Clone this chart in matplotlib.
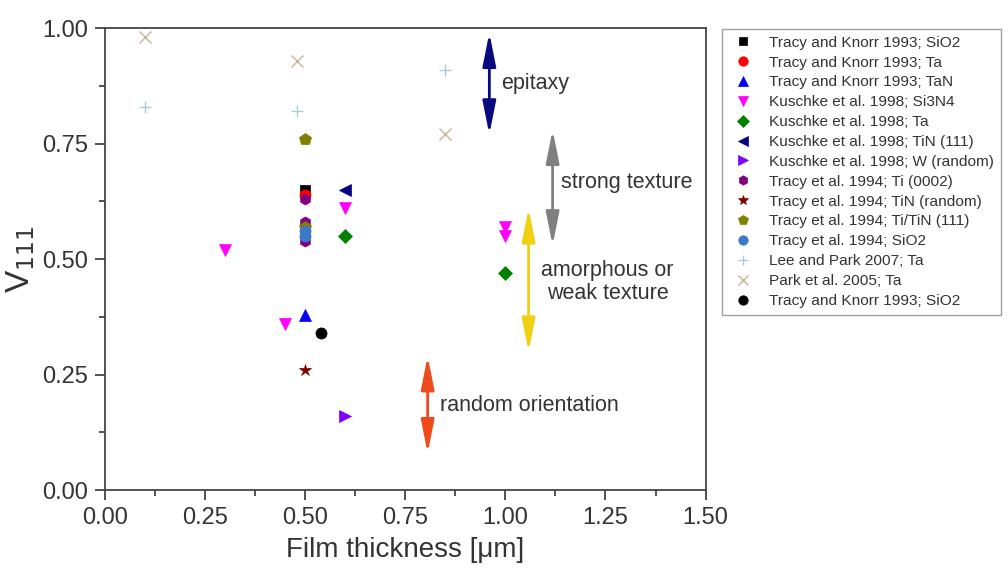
import matplotlib.pyplot as plt
from matplotlib.patches import FancyArrowPatch

plt.rcParams['font.family'] = ['Liberation Sans', 'DejaVu Sans']

# data: (thickness in um, V111)
tk_sio2_x, tk_sio2_y = [0.50], [0.65]
tk_ta_x, tk_ta_y = [0.50], [0.64]
tk_tan_x, tk_tan_y = [0.50], [0.38]
ku_si3n4_x = [0.30, 0.45, 0.60, 1.00, 1.00]
ku_si3n4_y = [0.52, 0.36, 0.61, 0.57, 0.55]
ku_ta_x, ku_ta_y = [0.60, 1.00], [0.55, 0.47]
ku_tin_x, ku_tin_y = [0.60], [0.65]
ku_w_x, ku_w_y = [0.60], [0.16]
tr_ti_x, tr_ti_y = [0.50, 0.50, 0.50], [0.63, 0.58, 0.54]
tr_tin_x, tr_tin_y = [0.50], [0.26]
tr_titin_x, tr_titin_y = [0.50, 0.50], [0.76, 0.57]
tr_sio2_x, tr_sio2_y = [0.50, 0.50], [0.56, 0.55]
lee_x, lee_y = [0.10, 0.48, 0.85], [0.83, 0.82, 0.91]
park_x, park_y = [0.10, 0.48, 0.85], [0.98, 0.93, 0.77]
tk_sio2b_x, tk_sio2b_y = [0.54], [0.34]

series = [
    (tk_sio2_x, tk_sio2_y, "s", "#000000", 7, "Tracy and Knorr 1993; SiO2"),
    (tk_ta_x, tk_ta_y, "o", "#ff0000", 8, "Tracy and Knorr 1993; Ta"),
    (tk_tan_x, tk_tan_y, "^", "#0000ff", 9, "Tracy and Knorr 1993; TaN"),
    (ku_si3n4_x, ku_si3n4_y, "v", "#ff00ff", 9, "Kuschke et al. 1998; Si3N4"),
    (ku_ta_x, ku_ta_y, "D", "#008000", 7, "Kuschke et al. 1998; Ta"),
    (ku_tin_x, ku_tin_y, "<", "#000080", 9, "Kuschke et al. 1998; TiN (111)"),
    (ku_w_x, ku_w_y, ">", "#7f00ff", 9, "Kuschke et al. 1998; W (random)"),
    (tr_ti_x, tr_ti_y, "h", "#800080", 8, "Tracy et al. 1994; Ti (0002)"),
    (tr_tin_x, tr_tin_y, "*", "#800000", 9, "Tracy et al. 1994; TiN (random)"),
    (tr_titin_x, tr_titin_y, "p", "#808000", 9, "Tracy et al. 1994; Ti/TiN (111)"),
    (tr_sio2_x, tr_sio2_y, "o", "#3a78c8", 8, "Tracy et al. 1994; SiO2"),
    (lee_x, lee_y, "+", "#a8ccd8", 8, "Lee and Park 2007; Ta"),
    (park_x, park_y, "x", "#c8b496", 8, "Park et al. 2005; Ta"),
    (tk_sio2b_x, tk_sio2b_y, "o", "#000000", 8, "Tracy and Knorr 1993; SiO2"),
]

# regime arrows: x, y_low, y_high, colour, label, label position
regimes = [
    (0.96, 0.77, 0.99, "#0a0a80", "epitaxy", (0.99, 0.88)),
    (1.118, 0.53, 0.78, "#808080", "strong texture", (1.14, 0.665)),
    (1.058, 0.30, 0.61, "#f0d010", "amorphous or\nweak texture", (1.255, 0.45)),
    (0.806, 0.08, 0.29, "#ee4a1c", "random orientation", (0.836, 0.184)),
]

fig = plt.figure(figsize=(10.08, 5.76), dpi=100)
ax = fig.add_axes([0.104, 0.149, 0.596, 0.802])

for x, y, m, c, ms, lab in series:
    lw = 1.0 if m in ("+", "x") else 0.5
    ax.plot(x, y, linestyle="none", marker=m, color=c, markersize=ms,
            markeredgewidth=lw, label=lab)

for x, lo, hi, c, lab, (tx, ty) in regimes:
    arr = FancyArrowPatch((x, lo), (x, hi),
                          arrowstyle="<|-|>,head_length=1.0,head_width=0.2",
                          mutation_scale=20, color=c, lw=2.0,
                          shrinkA=0, shrinkB=0)
    ax.add_patch(arr)
    ha = "center" if "\n" in lab else "left"
    ax.text(tx, ty, lab, fontsize=15.5, color="#333333", ha=ha, va="center",
            linespacing=1.1)

ax.set_xlim(0, 1.5)
ax.set_ylim(0, 1.0)
ax.set_xticks([0, 0.25, 0.5, 0.75, 1.0, 1.25, 1.5])
ax.set_yticks([0, 0.25, 0.5, 0.75, 1.0])
ax.set_xticks([0.125, 0.375, 0.625, 0.875, 1.125, 1.375], minor=True)
ax.set_yticks([0.125, 0.375, 0.625, 0.875], minor=True)
ax.xaxis.set_major_formatter(plt.FormatStrFormatter("%.2f"))
ax.yaxis.set_major_formatter(plt.FormatStrFormatter("%.2f"))
ax.tick_params(which="major", length=7, width=1.2, labelsize=17, pad=5,
               colors="#333333", labelcolor="#333333")
ax.tick_params(which="minor", length=4, width=1.2, colors="#333333")
ax.tick_params(top=False, right=False)
for sp in ax.spines.values():
    sp.set_color("#444444")
    sp.set_linewidth(1.3)

ax.set_xlabel("Film thickness [\u03bcm]", fontsize=20, color="#333333", labelpad=6)
ax.set_ylabel("V$_{111}$", fontsize=24, color="#333333", labelpad=4)

leg = ax.legend(loc="upper left", bbox_to_anchor=(0.716, 0.95),
                bbox_transform=fig.transFigure, fontsize=11.1,
                labelspacing=0.38, handletextpad=0.7, handlelength=1.9,
                borderpad=0.45, borderaxespad=0, frameon=True,
                fancybox=False, markerscale=0.85)
leg.get_frame().set_edgecolor("#888888")
leg.get_frame().set_linewidth(1.0)
for t in leg.get_texts():
    t.set_color("#333333")

fig.savefig("out.png", dpi=100)
